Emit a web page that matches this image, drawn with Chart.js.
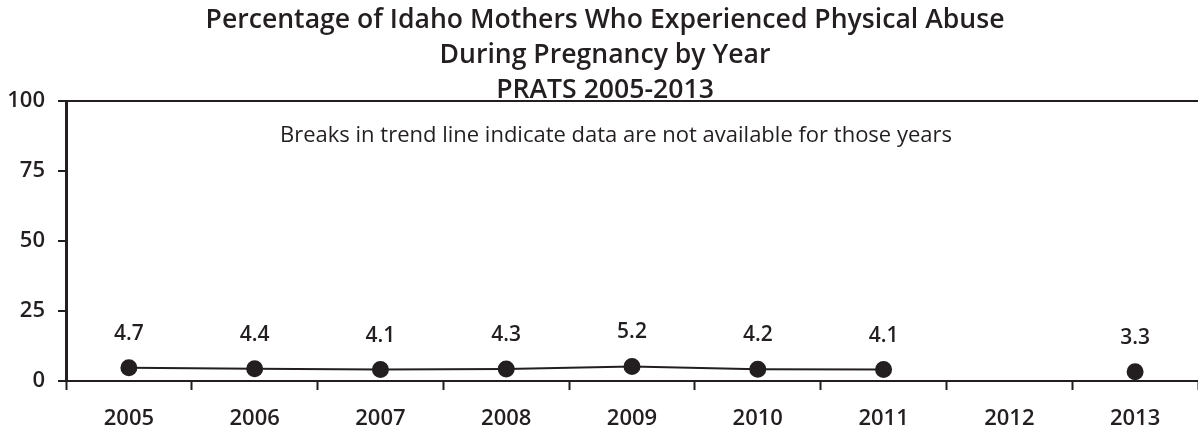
<!DOCTYPE html>
<html><head><meta charset="utf-8">
<script src="https://cdn.jsdelivr.net/npm/chart.js@4.4.0/dist/chart.umd.min.js"></script>
<style>html,body{margin:0;padding:0;background:#fff;}#wrap{width:1198px;height:431px;}</style>
</head><body><div id="wrap"><canvas id="c" width="1198" height="431"></canvas></div>
<script>
const years = ['2005','2006','2007','2008','2009','2010','2011','2012','2013'];
const percentages = [4.7, 4.4, 4.1, 4.3, 5.2, 4.2, 4.1, null, 3.3];
const yTicks = [0, 25, 50, 75, 100];
const titleLines = ['Percentage of Idaho Mothers Who Experienced Physical Abuse','During Pregnancy by Year','PRATS 2005-2013'];
const noteText = 'Breaks in trend line indicate data are not available for those years';

const INK = '#231f20';
const FONT = '"Open Sans", "DejaVu Sans", sans-serif';

const overlay = {
  id: 'overlay',
  afterDatasetsDraw(chart) {
    const ctx = chart.ctx;
    ctx.save();
    ctx.fillStyle = INK;
    ctx.textAlign = 'center';
    ctx.textBaseline = 'alphabetic';
    ctx.font = '600 26.6px ' + FONT;
    const cx = 605;
    const ys = [28, 63, 98];
    titleLines.forEach((t, i) => ctx.fillText(t, cx, ys[i]));
    ctx.font = '22px ' + FONT;
    ctx.fillText(noteText, 616, 142);
    ctx.textBaseline = 'middle';
    ctx.font = '600 21px ' + FONT;
    const meta = chart.getDatasetMeta(0);
    meta.data.forEach((pt, i) => {
      const v = chart.data.datasets[0].data[i];
      if (v === null || v === undefined) return;
      ctx.fillText(v.toFixed(1), pt.x, pt.y - 34);
    });
    ctx.restore();
  }
};

new Chart(document.getElementById('c'), {
  type: 'line',
  data: {
    labels: years,
    datasets: [{
      data: percentages,
      borderColor: INK,
      borderWidth: 2,
      backgroundColor: INK,
      pointBackgroundColor: INK,
      pointBorderColor: INK,
      pointRadius: 7.5,
      pointHoverRadius: 7.5,
      spanGaps: false,
      tension: 0,
      clip: false
    }]
  },
  options: {
    responsive: false,
    animation: false,
    events: [],
    layout: { autoPadding: false, padding: { top: 101, right: 0, left: 0, bottom: 0 } },
    plugins: { legend: { display: false }, tooltip: { enabled: false }, title: { display: false } },
    scales: {
      x: {
        type: 'category',
        offset: true,
        grid: { display: true, offset: true, drawOnChartArea: false, drawTicks: true, tickLength: 9, tickColor: INK, tickWidth: 2 },
        border: { display: true, color: INK, width: 2 },
        ticks: { color: INK, font: { family: FONT, size: 22, weight: '600' }, padding: 16, maxRotation: 0, autoSkip: false },
        afterFit(s) { s.height = 50; s.paddingLeft = 0; s.paddingRight = 0; }
      },
      y: {
        min: 0, max: 100,
        afterBuildTicks(s) { s.ticks = yTicks.map(v => ({ value: v })); },
        grid: {
          display: true, drawOnChartArea: true, drawTicks: true, tickLength: 8,
          color: (c) => (c.tick && c.tick.value === 100) ? INK : 'rgba(0,0,0,0)',
          lineWidth: 2, tickColor: INK, tickWidth: 2
        },
        border: { display: true, color: INK, width: 3 },
        ticks: { color: INK, font: { family: FONT, size: 22, weight: '600' }, padding: 13 },
        afterFit(s) { s.width = 66; s.paddingTop = 0; s.paddingBottom = 0; }
      }
    }
  },
  plugins: [overlay]
});
</script>
</body></html>
